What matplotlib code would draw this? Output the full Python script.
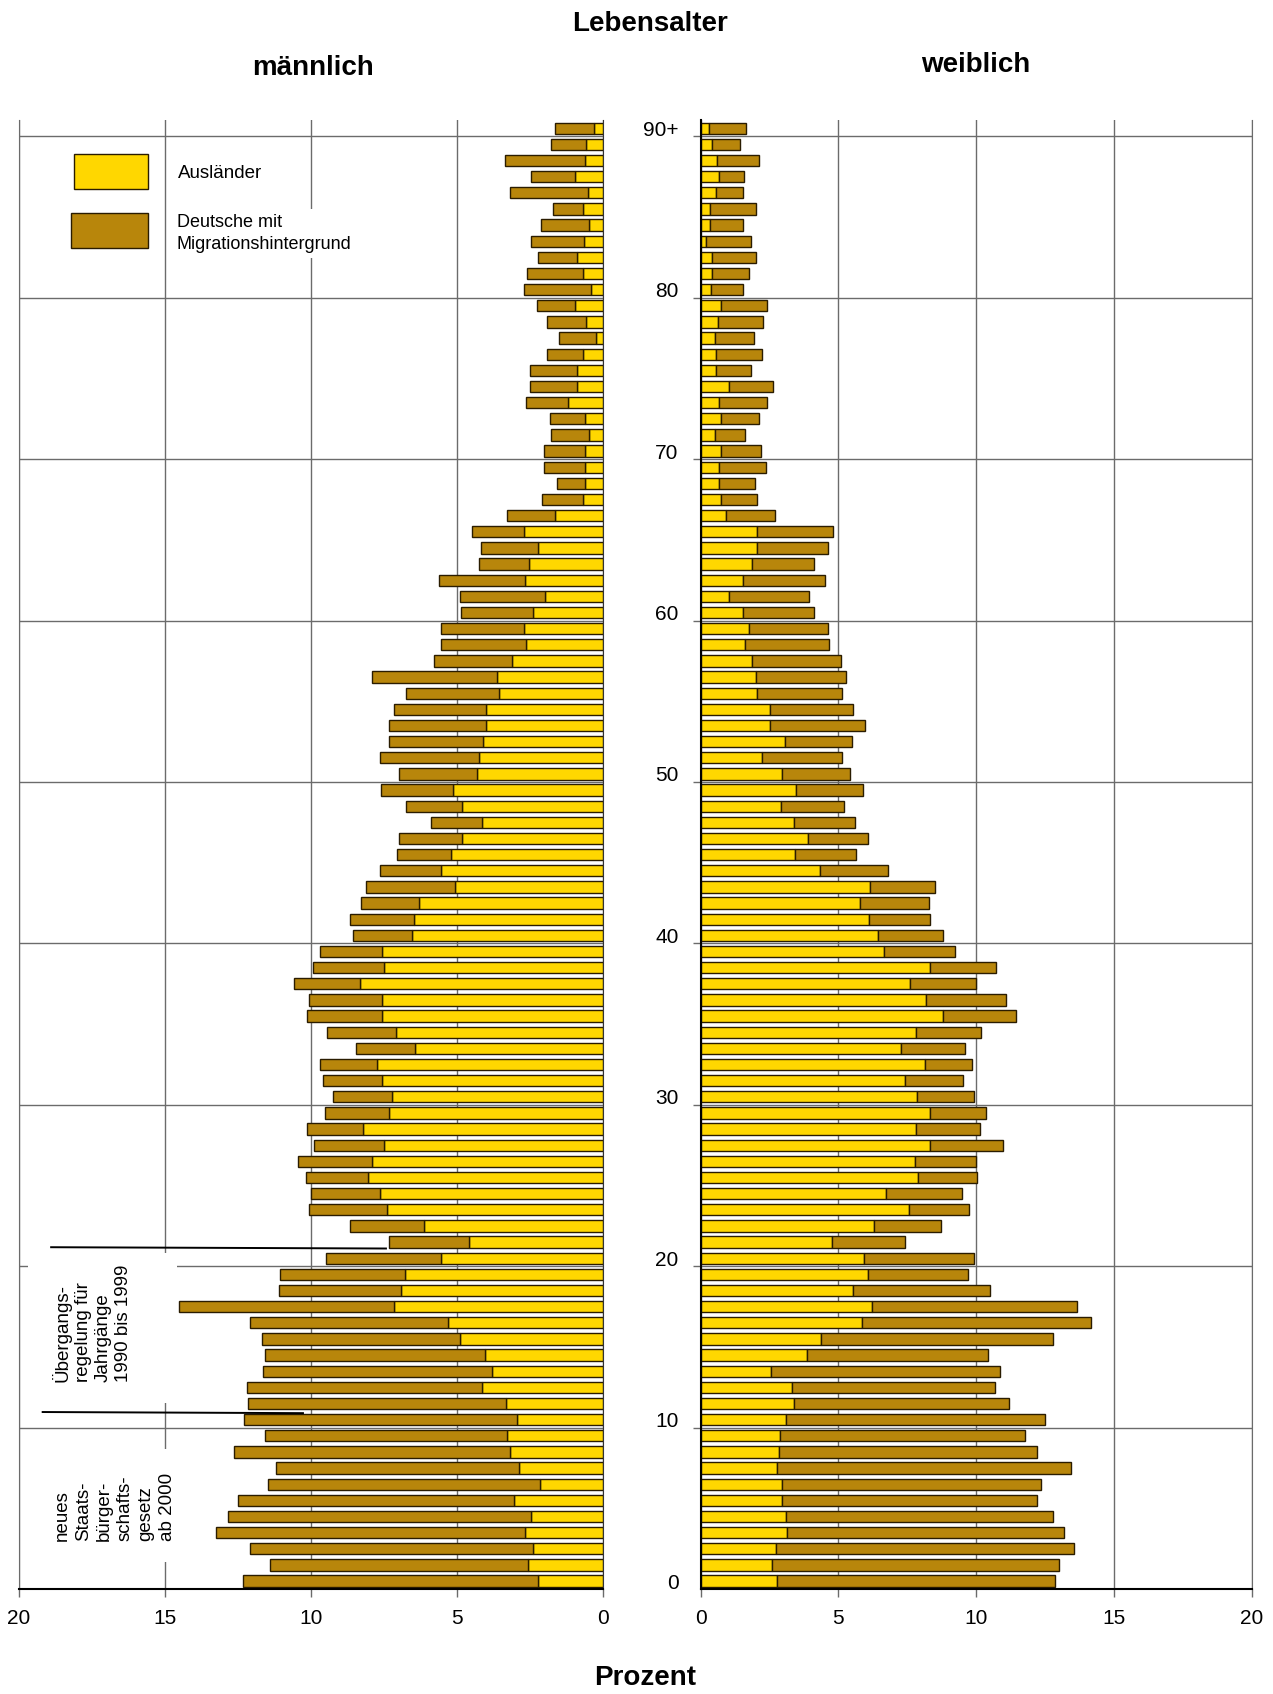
import matplotlib
matplotlib.use('Agg')
import matplotlib.pyplot as plt
from matplotlib import font_manager
from matplotlib.patches import Rectangle
import numpy as np

# Schrift: schmale Helvetica-Optik, falls vorhanden
namen = {f.name for f in font_manager.fontManager.ttflist}
schrift = 'Liberation Sans Narrow' if 'Liberation Sans Narrow' in namen else 'Liberation Sans'
plt.rcParams['font.family'] = [schrift, 'DejaVu Sans']

alter = np.arange(0, 91)
alter_ticks = [0, 10, 20, 30, 40, 50, 60, 70, 80, 90]
alter_labels = ['0', '10', '20', '30', '40', '50', '60', '70', '80', '90+']
prozent_ticks = [20, 15, 10, 5, 0]

# männlich, Alter 0 .. 90+
m_auslaender = [2.23, 2.59, 2.42, 2.69, 2.47, 3.05, 2.16, 2.88, 3.18, 3.28,
                2.97, 3.34, 4.15, 3.82, 4.04, 4.89, 5.31, 7.18, 6.91, 6.80,
                5.56, 4.58, 6.14, 7.40, 7.66, 8.05, 7.93, 7.52, 8.23, 7.35,
                7.23, 7.57, 7.74, 6.43, 7.11, 7.59, 7.56, 8.32, 7.49, 7.59,
                6.56, 6.47, 6.30, 5.06, 5.57, 5.23, 4.84, 4.14, 4.82, 5.15,
                4.34, 4.27, 4.11, 4.00, 4.00, 3.58, 3.63, 3.13, 2.65, 2.72,
                2.42, 2.00, 2.69, 2.56, 2.25, 2.73, 1.67, 0.71, 0.61, 0.64,
                0.64, 0.50, 0.61, 1.20, 0.91, 0.91, 0.71, 0.26, 0.59, 0.98,
                0.41, 0.70, 0.91, 0.67, 0.48, 0.71, 0.53, 0.98, 0.61, 0.59,
                0.32]
m_gesamt = [12.33, 11.40, 12.08, 13.25, 12.83, 12.52, 11.46, 11.21, 12.63, 11.58,
            12.29, 12.15, 12.21, 11.64, 11.58, 11.68, 12.11, 14.53, 11.10, 11.05,
            9.49, 7.34, 8.66, 10.09, 10.00, 10.16, 10.45, 9.90, 10.13, 9.54,
            9.25, 9.59, 9.70, 8.47, 9.47, 10.13, 10.09, 10.58, 9.93, 9.70,
            8.56, 8.66, 8.29, 8.13, 7.63, 7.05, 6.99, 5.90, 6.77, 7.61,
            7.01, 7.65, 7.32, 7.32, 7.18, 6.74, 7.93, 5.81, 5.57, 5.57,
            4.86, 4.89, 5.61, 4.27, 4.18, 4.51, 3.31, 2.09, 1.60, 2.04,
            2.04, 1.79, 1.84, 2.66, 2.50, 2.50, 1.94, 1.50, 1.94, 2.27,
            2.71, 2.60, 2.24, 2.47, 2.12, 1.71, 3.18, 2.49, 3.37, 1.80,
            1.66]

# weiblich, Alter 0 .. 90+
w_auslaender = [2.78, 2.60, 2.75, 3.15, 3.10, 2.97, 2.97, 2.78, 2.86, 2.87,
                3.11, 3.37, 3.32, 2.57, 3.87, 4.38, 5.85, 6.23, 5.54, 6.09,
                5.94, 4.78, 6.31, 7.58, 6.74, 7.89, 7.77, 8.31, 7.81, 8.31,
                7.85, 7.42, 8.15, 7.26, 7.80, 8.81, 8.17, 7.61, 8.33, 6.67,
                6.42, 6.10, 5.80, 6.13, 4.32, 3.44, 3.91, 3.37, 2.93, 3.47,
                2.96, 2.21, 3.05, 2.50, 2.52, 2.06, 2.02, 1.88, 1.62, 1.77,
                1.53, 1.01, 1.55, 1.87, 2.06, 2.05, 0.93, 0.72, 0.68, 0.65,
                0.75, 0.53, 0.72, 0.68, 1.03, 0.55, 0.57, 0.51, 0.63, 0.73,
                0.39, 0.40, 0.42, 0.19, 0.35, 0.35, 0.57, 0.65, 0.59, 0.42,
                0.29]
w_gesamt = [12.85, 13.00, 13.57, 13.18, 12.81, 12.22, 12.37, 13.46, 12.22, 11.76,
            12.49, 11.20, 10.70, 10.88, 10.45, 12.78, 14.19, 13.66, 10.50, 9.69,
            9.94, 7.43, 8.74, 9.76, 9.48, 10.05, 10.01, 10.96, 10.15, 10.35,
            9.94, 9.54, 9.84, 9.61, 10.18, 11.46, 11.07, 9.99, 10.74, 9.25,
            8.81, 8.34, 8.29, 8.49, 6.79, 5.63, 6.07, 5.60, 5.20, 5.89,
            5.42, 5.14, 5.49, 5.95, 5.52, 5.13, 5.28, 5.08, 4.65, 4.62,
            4.13, 3.95, 4.53, 4.10, 4.62, 4.80, 2.69, 2.06, 1.98, 2.38,
            2.19, 1.62, 2.13, 2.39, 2.64, 1.82, 2.24, 1.92, 2.28, 2.42,
            1.55, 1.75, 2.00, 1.84, 1.52, 1.99, 1.55, 1.56, 2.10, 1.41,
            1.65]

m_auslaender = np.array(m_auslaender)
w_auslaender = np.array(w_auslaender)
m_deutsche_mh = np.array(m_gesamt) - m_auslaender
w_deutsche_mh = np.array(w_gesamt) - w_auslaender

gelb = '#FFD700'
braun = '#B8860B'
rand = '#2a1c00'
gitter = '#6b6b6b'

W, H = 1273, 1694
fig = plt.figure(figsize=(W / 100, H / 100), dpi=100)

unten = 1 - 1589.1 / H
hoehe = (1589.1 - 120.2) / H
axL = fig.add_axes([19 / W, unten, 584.3 / W, hoehe])
axR = fig.add_axes([700.7 / W, unten, 550.8 / W, hoehe])

for ax in (axL, axR):
    ax.set_axisbelow(True)
    ax.set_ylim(-0.5, 90.5)
    ax.set_xticks(prozent_ticks)
    ax.set_xticklabels([str(t) for t in prozent_ticks], fontsize=15)
    ax.tick_params(axis='x', length=6, width=1, color=gitter, pad=8)
    ax.set_yticks(np.arange(9.5, 90, 10), minor=True)
    ax.grid(True, axis='x', which='major', color=gitter, lw=1)
    ax.grid(True, axis='y', which='minor', color=gitter, lw=1)
    ax.spines['top'].set_visible(False)
    ax.spines['bottom'].set_color('black')
    ax.spines['bottom'].set_linewidth(1.5)

# linke Seite: männlich
axL.set_xlim(20, 0)
axL.set_yticks([])
axL.tick_params(axis='y', which='minor', length=0)
axL.spines['left'].set_color(gitter)
axL.spines['right'].set_color('#333333')
axL.barh(alter, m_auslaender, height=0.7, color=gelb, edgecolor=rand, lw=1, zorder=2)
axL.barh(alter, m_deutsche_mh, left=m_auslaender, height=0.7, color=braun,
         edgecolor=rand, lw=1, zorder=2)

# rechte Seite: weiblich
axR.set_xlim(0, 20)
axR.set_yticks(alter_ticks)
axR.set_yticklabels(alter_labels, fontsize=15)
axR.tick_params(axis='y', which='major', length=0, pad=16)
axR.tick_params(axis='y', which='minor', length=6, width=1, color=gitter)
axR.spines['left'].set_color('black')
axR.spines['left'].set_linewidth(1.5)
axR.spines['right'].set_color(gitter)
axR.barh(alter, w_auslaender, height=0.7, color=gelb, edgecolor=rand, lw=1, zorder=2)
axR.barh(alter, w_deutsche_mh, left=w_auslaender, height=0.7, color=braun,
         edgecolor=rand, lw=1, zorder=2)

# Anmerkungen links unten
axL.add_patch(Rectangle((14.6, 11.0), 5.1, 9.3, facecolor='white', edgecolor='none', zorder=1))
axL.add_patch(Rectangle((14.6, 1.2), 5.1, 7.0, facecolor='white', edgecolor='none', zorder=1))
axL.plot([18.9, 7.44], [20.68, 20.6], color='black', lw=1.4, zorder=3)
axL.plot([19.19, 10.28], [10.47, 10.40], color='black', lw=1.4, zorder=3)
axL.text(17.5, 12.3, 'Übergangs-\nregelung für\nJahrgänge\n1990 bis 1999', rotation=90,
         ha='center', va='bottom', multialignment='left', fontsize=13.5, linespacing=1.25, zorder=4)
axL.text(16.72, 2.48, 'neues\nStaats-\nbürger-\nschafts-\ngesetz\nab 2000', rotation=90,
         ha='center', va='bottom', multialignment='left', fontsize=13.5, linespacing=1.3, zorder=4)

# Legende
fig.patches.append(Rectangle((73.5 / W, 1 - 189 / H), 74.5 / W, 34.5 / H, transform=fig.transFigure,
                             facecolor=gelb, edgecolor=rand, lw=1, zorder=5))
fig.patches.append(Rectangle((71 / W, 1 - 248.5 / H), 77 / W, 35.5 / H, transform=fig.transFigure,
                             facecolor=braun, edgecolor=rand, lw=1, zorder=5))
box = dict(facecolor='white', edgecolor='none', pad=4)
fig.text(178 / W, 1 - 174 / H, 'Ausländer', ha='left', va='center', fontsize=13.5, bbox=box, zorder=5)
fig.text(177 / W, 1 - 233.5 / H, 'Deutsche mit\nMigrationshintergrund', ha='left', va='center',
         fontsize=13, linespacing=1.35, bbox=box, zorder=5)

# Titel
fig.text(650 / W, 1 - 24 / H, 'Lebensalter', ha='center', va='center', fontsize=20, fontweight='bold')
fig.text(313.4 / W, 1 - 68 / H, 'männlich', ha='center', va='center', fontsize=20, fontweight='bold')
fig.text(975.8 / W, 1 - 64.8 / H, 'weiblich', ha='center', va='center', fontsize=20, fontweight='bold')
fig.text(645 / W, 1 - 1678 / H, 'Prozent', ha='center', va='center', fontsize=20, fontweight='bold')

plt.savefig('out.png', dpi=100)
